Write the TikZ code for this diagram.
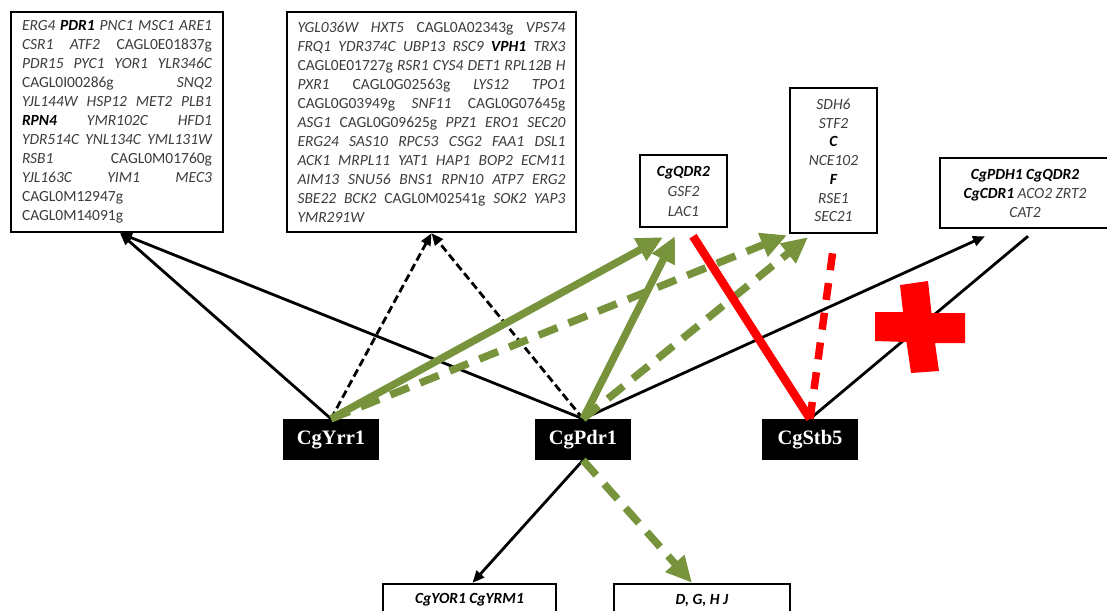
\documentclass[tikz,border=0pt]{standalone}
\usepackage{fontspec}
\setmainfont{Carlito}
\newfontfamily\tnrfont{Liberation Serif}
\usetikzlibrary{arrows.meta}

\definecolor{leaf}{HTML}{77933C}
\definecolor{genegray}{HTML}{3C3C3C}

% gene name helpers: bold (black) and upright systematic names
\newcommand{\gb}[1]{{\color{black}\bfseries #1}}
\newcommand{\gu}[1]{{\upshape #1}}
% justified and left-set lines of a gene list
\newcommand{\jline}[2]{\makebox[#1][s]{#2}}
\newcommand{\lline}[2]{\makebox[#1][l]{#2}}
\newcommand{\genefont}{\fontsize{15.5}{19}\selectfont\itshape}

\tikzset{
  genebox/.style={draw=black, line width=2.4pt, fill=white, inner sep=0pt,
    text=genegray, font=\genefont, align=center},
  tf/.style={fill=black, text=white, inner sep=0pt, minimum width=96pt,
    minimum height=41pt, font=\tnrfont\bfseries\fontsize{20.5}{24}\selectfont},
  blk/.style={draw=black, line width=2.8pt, -{Triangle[length=12pt,width=10pt]}},
  blkd/.style={blk, dash pattern=on 8pt off 4pt},
  blkl/.style={draw=black, line width=2.8pt},
  grn/.style={draw=leaf, line width=7.5pt, -{Triangle[length=26pt,width=24pt]}},
  grnd/.style={grn, dash pattern=on 20pt off 12pt},
  redl/.style={draw=red, line width=8.5pt},
  redd/.style={draw=red, line width=7.5pt, dash pattern=on 17pt off 13pt},
}

\begin{document}
\begin{tikzpicture}[x=1pt,y=-1pt]
\useasboundingbox (0,0) rectangle (1107,610);

% ---- target gene lists ----
\node[genebox, minimum width=212pt, minimum height=220pt, align=left] (box1) at (117,122) {%
\jline{190pt}{ERG4 \gb{PDR1} PNC1 MSC1 ARE1}\\
\jline{190pt}{CSR1 ATF2 \gu{CAGL0E01837g}}\\
\jline{190pt}{PDR15 PYC1 YOR1 YLR346C}\\
\jline{190pt}{\gu{CAGL0I00286g} SNQ2}\\
\jline{190pt}{YJL144W HSP12 MET2 PLB1}\\
\jline{190pt}{\gb{RPN4} YMR102C HFD1}\\
\jline{190pt}{YDR514C YNL134C YML131W}\\
\jline{190pt}{RSB1 \gu{CAGL0M01760g}}\\
\jline{190pt}{YJL163C YIM1 MEC3}\\
\lline{190pt}{\gu{CAGL0M12947g}}\\
\lline{190pt}{\gu{CAGL0M14091g}}};

\node[genebox, minimum width=289pt, minimum height=220pt, align=left] (box2) at (431.5,122) {%
\jline{268pt}{YGL036W HXT5 \gu{CAGL0A02343g} VPS74}\\
\jline{268pt}{FRQ1 YDR374C UBP13 RSC9 \gb{VPH1} TRX3}\\
\jline{268pt}{\gu{CAGL0E01727g} RSR1 CYS4 DET1 RPL12B H}\\
\jline{268pt}{PXR1 \gu{CAGL0G02563g} LYS12 TPO1}\\
\jline{268pt}{\gu{CAGL0G03949g} SNF11 \gu{CAGL0G07645g}}\\
\jline{268pt}{ASG1 \gu{CAGL0G09625g} PPZ1 ERO1 SEC20}\\
\jline{268pt}{ERG24 SAS10 RPC53 CSG2 FAA1 DSL1}\\
\jline{268pt}{ACK1 MRPL11 YAT1 HAP1 BOP2 ECM11}\\
\jline{268pt}{AIM13 SNU56 BNS1 RPN10 ATP7 ERG2}\\
\jline{268pt}{SBE22 BCK2 \gu{CAGL0M02541g} SOK2 YAP3}\\
\lline{268pt}{YMR291W}};

\node[genebox, minimum width=87pt, minimum height=72pt, font=\fontsize{15.5}{20}\selectfont\itshape] (qdr) at (683.5,191)
  {\gb{CgQDR2}\\GSF2\\LAC1};

\node[genebox, minimum width=87pt, minimum height=145pt, font=\fontsize{15.5}{18.7}\selectfont\itshape] (sdh) at (833.5,160.5)
  {SDH6\\STF2\\\gb{C}\\NCE102\\\gb{F}\\RSE1\\SEC21};

\node[genebox, minimum width=170pt, minimum height=70pt] (pdh) at (1025,193)
  {\gb{CgPDH1 CgQDR2}\\\gb{CgCDR1} ACO2 ZRT2\\CAT2};

\node[genebox, minimum width=173pt, minimum height=32pt] (yor) at (469.5,600)
  {\gb{CgYOR1 CgYRM1}};
\node[genebox, minimum width=176pt, minimum height=32pt] (dgh) at (702,600)
  {\gb{D, G, H J}};

% ---- transcription factors ----
\node[tf] (yrr) at (331,439.5) {CgYrr1};
\node[tf] (pdr) at (583,439.5) {CgPdr1};
\node[tf] (stb) at (810,439.5) {CgStb5};

% ---- end points on the target boxes ----
\coordinate (b1in) at ([xshift=3pt]box1.south);
\coordinate (b2in) at (box2.south);
\coordinate (qdrY) at ([xshift=-20.5pt,yshift=-9pt]qdr.south);
\coordinate (qdrP) at ([xshift=-8.5pt,yshift=-8pt]qdr.south);
\coordinate (qdrS) at ([xshift=9.5pt,yshift=-8pt]qdr.south);
\coordinate (sdhY) at ([xshift=-46.5pt,yshift=-1pt]sdh.south);
\coordinate (sdhP) at ([xshift=-25.5pt,yshift=-3pt]sdh.south);
\coordinate (sdhS) at ([yshift=-12pt]sdh.south);
\coordinate (pdhP) at ([xshift=-40pt,yshift=-7pt]pdh.south);
\coordinate (pdhS) at ([xshift=3pt,yshift=-7pt]pdh.south);
\coordinate (yorP) at ([xshift=3pt]yor.north);
\coordinate (dghP) at ([xshift=-10pt]dgh.north);

% ---- black connectors ----
\draw[blk] (yrr.north) -- (b1in);
\draw[blk] (pdr.north) -- (b1in);
\draw[blkd] (yrr.north) -- (b2in);
\draw[blkd] (pdr.north) -- (b2in);
\draw[blk] (pdr.north) -- (pdhP);
\draw[blk] (pdr.south) -- (yorP);
\draw[blkl] (stb.north) -- (pdhS);

% ---- green connectors ----
\draw[grn] (yrr.north) -- (qdrY);
\draw[grnd] (yrr.north) -- (sdhY);
\draw[grn] (pdr.north) -- (qdrP);
\draw[grnd] (pdr.north) -- (sdhP);
\draw[grnd] (pdr.south) -- (dghP);

% ---- red connectors ----
\draw[redl] (stb.north) -- (qdrS);
\draw[redd] (stb.north) -- (sdhS);

% ---- red cross ----
\fill[red] (900,285) -- (928,281) -- (931.5,313) -- (965,313) -- (965,343)
  -- (935,343) -- (939,371) -- (911,373) -- (906.5,342) -- (875,341)
  -- (875,312) -- (903,312) -- cycle;
\end{tikzpicture}
\end{document}
